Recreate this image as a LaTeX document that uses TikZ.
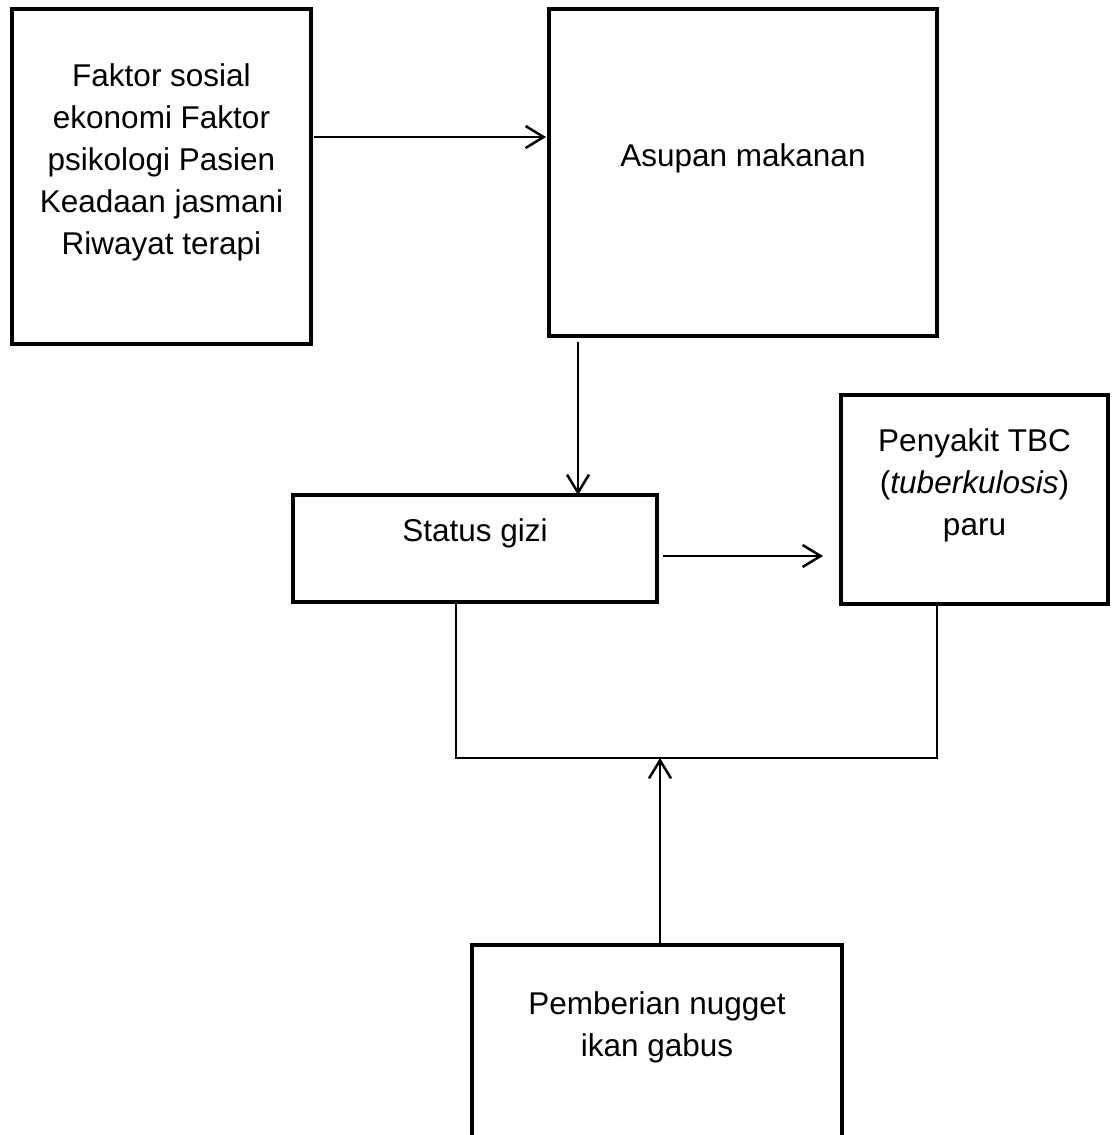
\documentclass[tikz,border=0pt]{standalone}
\usepackage{fontspec}
\setmainfont{Liberation Sans}
\usetikzlibrary{arrows.meta}
\tikzset{
  box/.style={draw=black, line width=2.25pt, rectangle, inner sep=0pt, outer sep=0pt},
  txt/.style={align=center, inner sep=0pt, font=\fontsize{15.75}{21}\selectfont},
  arr/.style={line width=1.25pt, -{Straight Barb[length=9pt, width=11pt, line width=1.25pt]}},
  thin/.style={line width=1pt}
}
\begin{document}
\begin{tikzpicture}[x=0.5pt, y=-0.5pt]
\clip (0,0) rectangle (1119,1135);
\fill[white] (0,0) rectangle (1119,1135);
% boxes
\node[box, minimum width=149.5pt, minimum height=167.5pt] (b1) at (161.5,176.5) {};
\node[box, minimum width=194pt, minimum height=163.5pt] (b2) at (743,172.5) {};
\node[box, minimum width=182pt, minimum height=53.5pt] (b3) at (475,548.5) {};
\node[box, minimum width=133.5pt, minimum height=104.5pt] (b4) at (974.5,499.5) {};
\node[box, minimum width=185pt, minimum height=96.5pt] (b5) at (657,1041.5) {};
% texts
\node[txt] (t1) at (161.5,162) {Faktor sosial\\ekonomi Faktor\\psikologi Pasien\\Keadaan jasmani\\Riwayat terapi};
\node[txt] (t2) at (743,158) {Asupan makanan};
\node[txt] (t3) at (475,533) {Status gizi};
\node[txt] (t4) at (974.5,485) {Penyakit TBC\\(\textit{tuberkulosis})\\paru};
\node[txt] (t5) at (657,1027) {Pemberian nugget\\ikan gabus};
% junction and arrow ends
\coordinate (j) at (660,758);
\coordinate (s2) at (578,342);
% arrows
\draw[arr] ([xshift=1.5pt]b1.east |- 0,137) -- ([xshift=-1.5pt]b2.west |- 0,137);
\draw[arr] (s2) -- (s2 |- b3.north);
\draw[arr] ([xshift=3pt]b3.east |- 0,556) -- ([xshift=-9pt]b4.west |- 0,556);
\draw[arr] (b5.north -| j) -- (j);
% bracket lines
\draw[thin] (456,0 |- b3.south) -- (456,758) -- (937,758) -- (937,0 |- b4.south);
\end{tikzpicture}
\end{document}
